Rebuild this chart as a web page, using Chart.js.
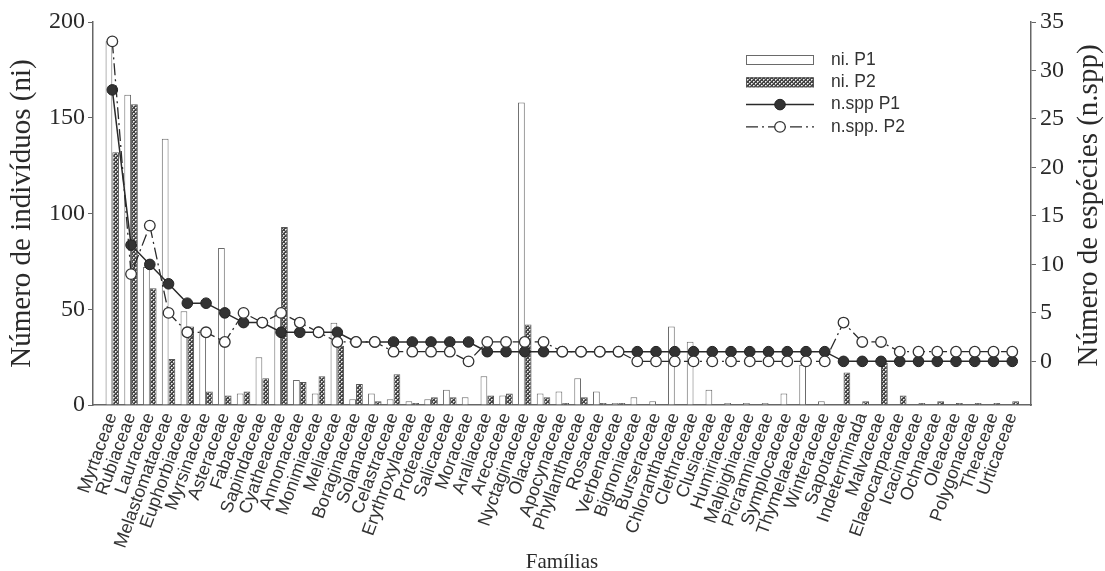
<!DOCTYPE html>
<html lang="pt">
<head>
<meta charset="utf-8">
<title>Famílias: ni e n.spp</title>
<script src="https://cdn.jsdelivr.net/npm/chart.js@4.4.1/dist/chart.umd.min.js"></script>
<style>
  html, body { margin: 0; padding: 0; background: #fff; }
</style>
</head>
<body>
<canvas id="famChart" width="1105" height="571"></canvas>
<script>
const families = [
  'Myrtaceae', 'Rubiaceae', 'Lauraceae', 'Melastomataceae', 'Euphorbiaceae',
  'Myrsinaceae', 'Asteraceae', 'Fabaceae', 'Sapindaceae', 'Cyatheaceae',
  'Annonaceae', 'Monimiaceae', 'Meliaceae', 'Boraginaceae', 'Solanaceae',
  'Celastraceae', 'Erythroxylaceae', 'Proteaceae', 'Salicaceae', 'Moraceae',
  'Araliaceae', 'Arecaceae', 'Nyctaginaceae', 'Olacaceae', 'Apocynaceae',
  'Phyllanthaceae', 'Rosaceae', 'Verbenaceae', 'Bignoniaceae', 'Burseraceae',
  'Chloranthaceae', 'Clethraceae', 'Clusiaceae', 'Humiriaceae', 'Malpighiaceae',
  'Picramniaceae', 'Symplocaceae', 'Thymelaeaceae', 'Winteraceae', 'Sapotaceae',
  'Indeterminada', 'Malvaceae', 'Elaeocarpaceae', 'Icacinaceae', 'Ochnaceae',
  'Oleaceae', 'Polygonaceae', 'Theaceae', 'Urticaceae'
];

// number of individuals (left axis)
const niP1 = [190, 162, 72, 139, 49, 39, 82, 6, 25, 49, 13, 6, 43, 3, 6, 3, 2, 3, 8, 4,
  15, 5, 158, 6, 7, 14, 7, 1, 4, 2, 41, 33, 8, 1, 1, 1, 6, 21, 2,
  0, 0, 0, 0, 0, 0, 0, 0, 0, 0];
const niP2 = [132, 157, 61, 24, 41, 7, 5, 7, 14, 93, 12, 15, 31, 11, 2, 16, 1, 4, 4, 0,
  5, 6, 42, 4, 1, 4, 1, 1, 0, 0, 0, 0, 0, 0, 0, 0, 0, 0, 0,
  17, 2, 22, 5, 1, 2, 1, 1, 1, 2];

// number of species (right axis)
const sppP1 = [28, 12, 10, 8, 6, 6, 5, 4, 4, 3, 3, 3, 3, 2, 2, 2, 2, 2, 2, 2,
  1, 1, 1, 1, 1, 1, 1, 1, 1, 1, 1, 1, 1, 1, 1, 1, 1, 1, 1,
  0, 0, 0, 0, 0, 0, 0, 0, 0, 0];
const sppP2 = [33, 9, 14, 5, 3, 3, 2, 5, 4, 5, 4, 3, 2, 2, 2, 1, 1, 1, 1, 0,
  2, 2, 2, 2, 1, 1, 1, 1, 0, 0, 0, 0, 0, 0, 0, 0, 0, 0, 0,
  4, 2, 2, 1, 1, 1, 1, 1, 1, 1];

const leftTicks = [0, 50, 100, 150, 200];
const rightTicks = [0, 5, 10, 15, 20, 25, 30, 35];

const serif = '"Liberation Serif", "Times New Roman", serif';
const sans = '"Liberation Sans", Arial, sans-serif';
const axisColor = '#666';
const inkColor = '#2a2a2a';

// crosshatch fill for the P2 bars
function makeHatch() {
  const c = document.createElement('canvas');
  c.width = 4;
  c.height = 4;
  const g = c.getContext('2d');
  g.fillStyle = '#444';
  g.fillRect(0, 0, 4, 4);
  g.fillStyle = '#f4f4f4';
  g.fillRect(1, 1, 1, 1);
  g.fillRect(3, 3, 1, 1);
  g.fillStyle = '#b4b4b4';
  g.fillRect(2, 1, 1, 1);
  g.fillRect(0, 3, 1, 1);
  g.fillRect(1, 2, 1, 1);
  g.fillRect(3, 0, 1, 1);
  return g.createPattern(c, 'repeat');
}

const ctx = document.getElementById('famChart').getContext('2d');
const hatch = makeHatch();

const toPoints = (arr) => arr.map((v, i) => ({ x: i, y: v }));

// Legend drawn inside the plot, with line + marker samples
const legendBox = {
  id: 'legendBox',
  afterDraw(chart) {
    const { ctx, chartArea } = chart;
    const x = chartArea.right - 285;
    const w = 68;
    const rowH = 22.3;
    let y = chartArea.top + 38;
    ctx.save();
    ctx.font = '17.5px ' + sans;
    ctx.textBaseline = 'middle';
    chart.data.datasets.forEach((ds) => {
      if (ds.type === 'line') {
        ctx.strokeStyle = ds.borderColor;
        ctx.lineWidth = ds.borderWidth;
        ctx.setLineDash(ds.borderDash || []);
        ctx.beginPath();
        ctx.moveTo(x, y);
        ctx.lineTo(x + w, y);
        ctx.stroke();
        ctx.setLineDash([]);
        ctx.beginPath();
        ctx.arc(x + w / 2, y, ds.pointRadius, 0, Math.PI * 2);
        ctx.fillStyle = ds.pointBackgroundColor;
        ctx.fill();
        ctx.lineWidth = ds.pointBorderWidth;
        ctx.strokeStyle = ds.pointBorderColor;
        ctx.stroke();
      } else {
        ctx.fillStyle = ds.backgroundColor;
        ctx.fillRect(x, y - 5, w, 10);
        ctx.lineWidth = 1;
        ctx.strokeStyle = ds.borderColor;
        ctx.strokeRect(x + 0.5, y - 5 + 0.5, w - 1, 9);
      }
      ctx.fillStyle = '#333';
      ctx.fillText(ds.label, x + 85, y);
      y += rowH;
    });
    ctx.restore();
  }
};

// right axis title reads bottom-to-top like the left one
const rightTitle = {
  id: 'rightTitle',
  afterDraw(chart) {
    const { ctx, chartArea } = chart;
    ctx.save();
    ctx.translate(chart.width - 16, (chartArea.top + chartArea.bottom) / 2 - 8);
    ctx.rotate(-Math.PI / 2);
    ctx.font = '29px ' + serif;
    ctx.fillStyle = inkColor;
    ctx.textAlign = 'center';
    ctx.textBaseline = 'middle';
    ctx.fillText('Número de espécies (n.spp)', 0, 0);
    ctx.restore();
  }
};

new Chart(ctx, {
  type: 'bar',
  data: {
    datasets: [
      {
        label: 'ni. P1',
        data: toPoints(niP1),
        backgroundColor: '#ffffff',
        borderColor: '#6a6a6a',
        borderWidth: 1,
        yAxisID: 'y',
        order: 2,
      },
      {
        label: 'ni. P2',
        data: toPoints(niP2),
        backgroundColor: hatch,
        borderColor: '#555',
        borderWidth: 1,
        yAxisID: 'y',
        order: 3,
      },
      {
        type: 'line',
        label: 'n.spp P1',
        data: toPoints(sppP1),
        borderColor: '#2a2a2a',
        borderWidth: 1.5,
        pointRadius: 5.3,
        pointBackgroundColor: '#333',
        pointBorderColor: '#222',
        pointBorderWidth: 1,
        tension: 0,
        yAxisID: 'y2',
        order: 1,
      },
      {
        type: 'line',
        label: 'n.spp. P2',
        data: toPoints(sppP2),
        borderColor: '#2a2a2a',
        borderWidth: 1.3,
        borderDash: [12, 4, 2, 4],
        pointRadius: 5.3,
        pointBackgroundColor: '#fff',
        pointBorderColor: '#333',
        pointBorderWidth: 1.3,
        tension: 0,
        yAxisID: 'y2',
        order: 0,
      },
    ],
  },
  options: {
    responsive: false,
    animation: false,
    layout: { padding: { top: 22, right: 0, bottom: 0, left: 0 } },
    categoryPercentage: 0.72,
    barPercentage: 1,
    plugins: {
      legend: { display: false },
      tooltip: { enabled: false },
    },
    scales: {
      x: {
        type: 'linear',
        offset: false,
        min: -1.03,
        max: 49,
        afterBuildTicks: (axis) => {
          axis.ticks = families.map((_, i) => ({ value: i }));
        },
        afterFit: (scale) => {
          scale.height = 166;
        },
        grid: { display: false, drawTicks: false },
        border: { display: true, color: axisColor, width: 1.5 },
        ticks: {
          autoSkip: false,
          minRotation: 70,
          maxRotation: 70,
          padding: 5,
          color: '#333',
          font: { family: sans, size: 18 },
          callback: (v) => families[v] ?? '',
        },
        title: {
          display: true,
          text: 'Famílias',
          color: inkColor,
          font: { family: serif, size: 21, lineHeight: 1 },
          padding: { top: 0, bottom: -2 },
        },
      },
      y: {
        position: 'left',
        min: 0,
        max: 200,
        afterBuildTicks: (axis) => {
          axis.ticks = leftTicks.map((v) => ({ value: v }));
        },
        afterFit: (scale) => {
          scale.width = 93;
        },
        grid: { drawOnChartArea: false, drawTicks: true, tickLength: 5, color: axisColor },
        border: { display: true, color: axisColor, width: 1.5 },
        ticks: {
          padding: 3,
          color: inkColor,
          font: { family: serif, size: 24 },
        },
        title: {
          display: true,
          text: 'Número de indivíduos (ni)',
          color: inkColor,
          font: { family: serif, size: 29, lineHeight: 1.2 },
          padding: { top: 5, bottom: 0 },
        },
      },
      y2: {
        position: 'right',
        min: -4.5,
        max: 35,
        afterBuildTicks: (axis) => {
          axis.ticks = rightTicks.map((v) => ({ value: v }));
        },
        afterFit: (scale) => {
          scale.width = 74;
        },
        grid: { drawOnChartArea: false, drawTicks: true, tickLength: 5, color: axisColor },
        border: { display: true, color: axisColor, width: 1.5 },
        ticks: {
          padding: 4,
          color: inkColor,
          font: { family: serif, size: 24 },
        },
      },
    },
  },
  plugins: [legendBox, rightTitle],
});
</script>
</body>
</html>
